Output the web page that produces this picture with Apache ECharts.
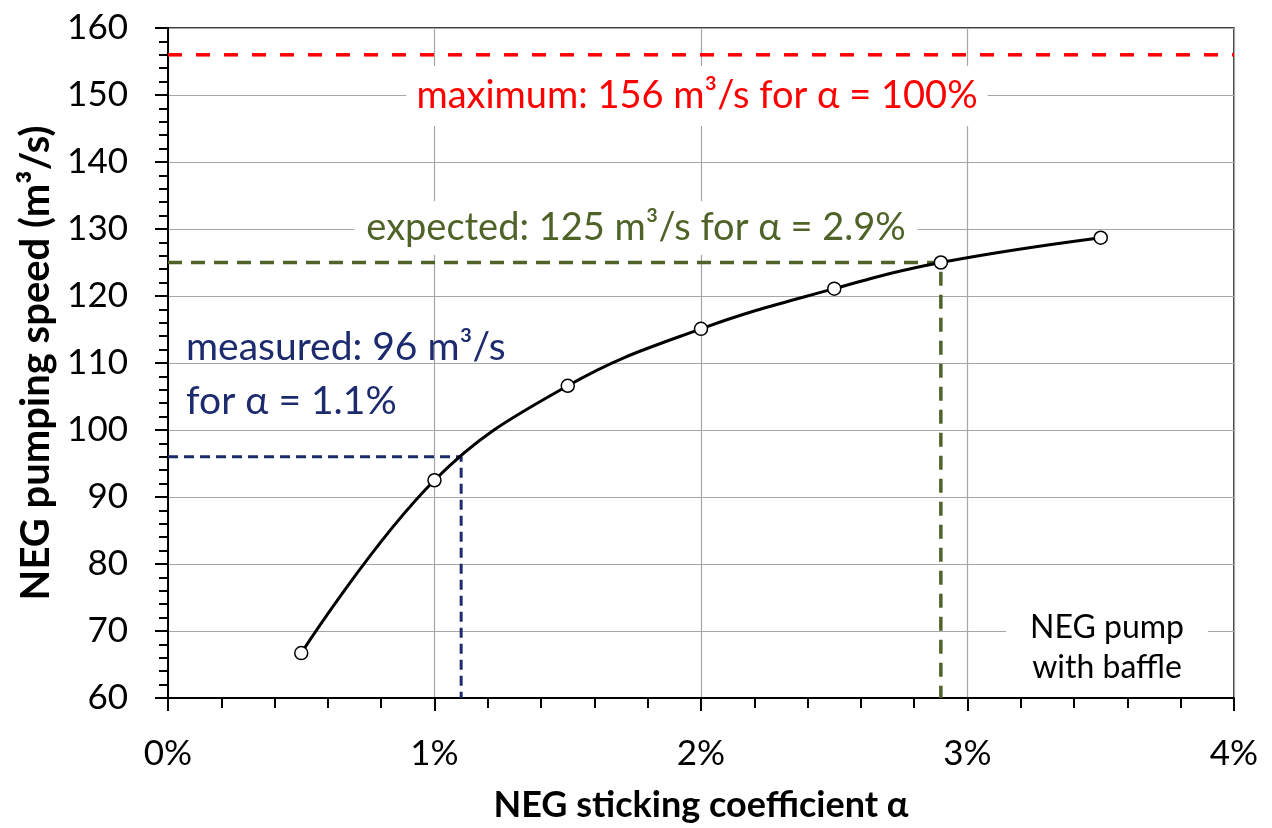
<!DOCTYPE html>
<html><head><meta charset="utf-8">
<script src="https://cdn.jsdelivr.net/npm/echarts@6/dist/echarts.min.js"></script>
<style>html,body{margin:0;padding:0;background:#fff}#c{width:1272px;height:828px}</style>
</head><body><div id="c"></div>
<script>
const alphaPct = [0.5, 1.0, 1.5, 2.0, 2.5, 2.9, 3.5];
const speed = [66.7, 92.5, 106.6, 115.1, 121.1, 125.0, 128.7];
const maxSpeed = 156;
const expected = {alpha: 2.9, speed: 125};
const measured = {alpha: 1.1, speed: 96};
const yMin = 60, yMax = 160, xMin = 0, xMax = 4;

const FONT = 'Lato, "Open Sans", sans-serif';
const chart = echarts.init(document.getElementById('c'));
chart.setOption({
  animation: false,
  grid: {left: 168, right: 38, top: 28, bottom: 128, show: true, borderColor: '#000', borderWidth: 1.5},
  xAxis: {
    type: 'value', min: xMin, max: xMax, interval: 1,
    name: 'NEG sticking coefficient α', nameLocation: 'middle', nameGap: 89,
    nameTextStyle: {fontFamily: FONT, fontSize: 36, fontWeight: 'bold', color: '#000'},
    axisLine: {lineStyle: {color: '#000', width: 2}},
    axisTick: {show: true, length: 13, lineStyle: {color: '#000', width: 2}},
    minorTick: {show: true, splitNumber: 5, length: 10, lineStyle: {color: '#000', width: 2}},
    splitLine: {show: true, lineStyle: {color: '#a6a6a6', width: 1.2}},
    axisLabel: {fontFamily: FONT, fontSize: 35, color: '#000', margin: 38, formatter: v => v + '%'}
  },
  yAxis: {
    type: 'value', min: yMin, max: yMax, interval: 10,
    name: 'NEG pumping speed (m³/s)', nameLocation: 'middle', nameGap: 110,
    nameTextStyle: {fontFamily: FONT, fontSize: 40, fontWeight: 'bold', color: '#000'},
    axisLine: {show: true, lineStyle: {color: '#000', width: 2}},
    axisTick: {show: true, length: 13, lineStyle: {color: '#000', width: 2}},
    minorTick: {show: true, splitNumber: 5, length: 9, lineStyle: {color: '#000', width: 2}},
    splitLine: {show: true, lineStyle: {color: '#a6a6a6', width: 1.2}},
    axisLabel: {fontFamily: FONT, fontSize: 35, color: '#000', margin: 40}
  },
  series: [
    {type: 'line', data: [[xMin, maxSpeed], [xMax, maxSpeed]], symbol: 'none', silent: true,
     lineStyle: {color: '#ff0000', width: 3.5, type: [14, 14]}, z: 3},
    {type: 'line', data: [[xMin, expected.speed], [expected.alpha, expected.speed], [expected.alpha, yMin]], symbol: 'none',
     lineStyle: {color: '#4f6228', width: 3.5, type: [14, 9]}, z: 3},
    {type: 'line', data: [[xMin, measured.speed], [measured.alpha, measured.speed], [measured.alpha, yMin]], symbol: 'none',
     lineStyle: {color: '#1c2a6e', width: 3, type: [10, 6]}, z: 3},
    {type: 'line', data: alphaPct.map((a, i) => [a, speed[i]]), smooth: 0.4,
     symbol: 'circle', symbolSize: 13,
     itemStyle: {color: '#fff', borderColor: '#000', borderWidth: 1.5},
     lineStyle: {color: '#000', width: 3}, z: 5}
  ],
  graphic: [
    {type: 'text', z: 10,
     style: {x: 697, y: 96, text: 'maximum: 156 m³/s for α = 100%', fill: '#ff0000', font: '38px ' + FONT,
       align: 'center', verticalAlign: 'middle', backgroundColor: '#fff', padding: [11, 10]}},
    {type: 'text', z: 10,
     style: {x: 636, y: 228, text: 'expected: 125 m³/s for α = 2.9%', fill: '#4f6228', font: '38px ' + FONT,
       align: 'center', verticalAlign: 'middle', backgroundColor: '#fff', padding: [8, 12]}},
    {type: 'text', z: 10,
     style: {x: 186, y: 347, text: 'measured: 96 m³/s', fill: '#1c2a6e', font: '39px ' + FONT,
       align: 'left', verticalAlign: 'middle'}},
    {type: 'text', z: 10,
     style: {x: 186, y: 401, text: 'for α = 1.1%', fill: '#1c2a6e', font: '39px ' + FONT,
       align: 'left', verticalAlign: 'middle'}},
    {type: 'text', z: 10,
     style: {x: 1107, y: 648, text: 'NEG pump\nwith baffle', fill: '#000', font: '32px ' + FONT, lineHeight: 40,
       align: 'center', verticalAlign: 'middle', backgroundColor: '#fff', padding: [0, 24]}}
  ]
});
</script></body></html>
